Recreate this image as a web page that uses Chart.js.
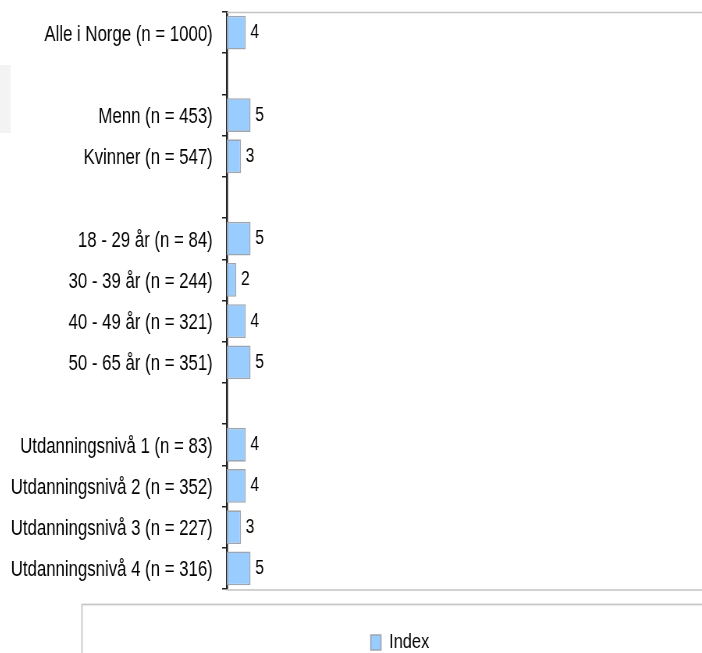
<!DOCTYPE html>
<html>
<head>
<meta charset="utf-8">
<script src="https://cdn.jsdelivr.net/npm/chart.js@4"></script>
<style>
  html, body { margin: 0; padding: 0; background: #fff; overflow: hidden; width: 702px; height: 653px; }
  /* the chart is laid out wide and squeezed horizontally for a condensed look */
  #wrap { position: absolute; left: -30px; top: 0; width: 938px; height: 663px;
          transform: scaleX(0.7804); transform-origin: 0 0; }
  #c { display: block; }
</style>
</head>
<body>
<div id="wrap"><canvas id="c" width="938" height="663"></canvas></div>
<script>
// Groups separated by empty rows
const categories = [
  'Alle i Norge (n = 1000)',
  '',
  'Menn (n = 453)',
  'Kvinner (n = 547)',
  '',
  '18 - 29 år (n = 84)',
  '30 - 39 år (n = 244)',
  '40 - 49 år (n = 321)',
  '50 - 65 år (n = 351)',
  '',
  'Utdanningsnivå 1 (n = 83)',
  'Utdanningsnivå 2 (n = 352)',
  'Utdanningsnivå 3 (n = 227)',
  'Utdanningsnivå 4 (n = 316)'
];
const indexValues = [4, null, 5, 3, null, 5, 2, 4, 5, null, 4, 4, 3, 5];
const seriesName = 'Index';

const FONT = '"Liberation Sans", Arial, Helvetica, sans-serif';
const AXIS_X = 329;        // left edge of the plot area on the canvas
const LEGEND_LEFT = 164;   // legend is centred between this and the right edge

// Frame lines, value labels and the legend frame
const decorations = {
  id: 'decorations',
  afterLayout(chart) {
    chart.legend.left = LEGEND_LEFT;
  },
  beforeDraw(chart) {
    const ctx = chart.ctx;
    ctx.save();
    ctx.fillStyle = '#f3f3f3';
    ctx.fillRect(38, 65, 14, 68);
    ctx.restore();
  },
  afterDraw(chart) {
    const ctx = chart.ctx;
    const a = chart.chartArea;
    ctx.save();
    ctx.strokeStyle = '#c4c4c4';
    ctx.lineWidth = 1.5;
    ctx.beginPath();
    ctx.moveTo(a.left, a.top + 0.5);
    ctx.lineTo(a.right, a.top + 0.5);
    ctx.moveTo(a.left, a.bottom + 1);
    ctx.lineTo(a.right, a.bottom + 1);
    ctx.stroke();
    // legend frame
    ctx.strokeStyle = '#c8c8c8';
    ctx.lineWidth = 1.8;
    ctx.strokeRect(143.5, 604.5, 900, 100);
    // value labels
    const meta = chart.getDatasetMeta(0);
    ctx.fillStyle = '#000';
    ctx.font = '20px ' + FONT;
    ctx.textBaseline = 'middle';
    ctx.textAlign = 'left';
    meta.data.forEach((bar, i) => {
      const v = indexValues[i];
      if (v === null) return;
      ctx.fillText(String(v), bar.x + 6, bar.y);
    });
    ctx.restore();
  }
};

new Chart(document.getElementById('c'), {
  type: 'bar',
  data: {
    labels: categories,
    datasets: [{
      label: seriesName,
      data: indexValues,
      backgroundColor: '#99ccff',
      borderColor: '#9da6b0',
      borderWidth: 1.6,
      borderSkipped: false,
      barPercentage: 0.82,
      categoryPercentage: 1
    }]
  },
  options: {
    indexAxis: 'y',
    responsive: false,
    animation: false,
    layout: { padding: { top: 12, left: 0, right: 0, bottom: 0 } },
    plugins: {
      tooltip: { enabled: false },
      legend: {
        position: 'bottom',
        labels: {
          boxWidth: 13,
          boxHeight: 15,
          padding: 10,
          color: '#000',
          font: { family: FONT, size: 21 }
        }
      }
    },
    scales: {
      x: {
        min: 0,
        max: 100,
        display: true,
        grid: { display: false },
        border: { display: false },
        ticks: { display: false },
        afterFit(scale) { scale.height = 33; }
      },
      y: {
        grid: {
          drawOnChartArea: false,
          drawTicks: true,
          tickLength: 6,
          color: '#222',
          lineWidth: 1.5
        },
        border: { display: true, color: '#222', width: 2.6 },
        ticks: {
          padding: 12,
          labelOffset: 2,
          color: '#000',
          autoSkip: false,
          font: { family: FONT, size: 21.5, lineHeight: 0.6 }
        },
        afterFit(scale) {
          scale.width = AXIS_X;
          scale.paddingTop = 0;
          scale.paddingBottom = 0;
        }
      }
    }
  },
  plugins: [decorations]
});
</script>
</body>
</html>
